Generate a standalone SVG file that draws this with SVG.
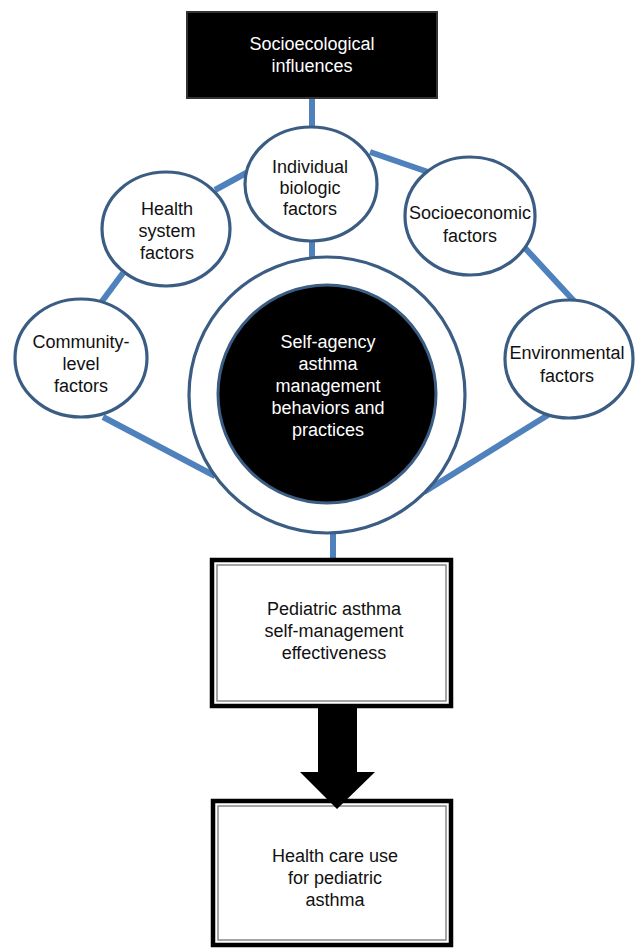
<svg xmlns="http://www.w3.org/2000/svg" width="636" height="948" viewBox="0 0 636 948">
<defs>
<style>
.bg{fill:#ffffff}
.t{font-family:"Liberation Sans",Arial,sans-serif;font-size:18px;fill:#111;text-anchor:middle}
.w{fill:#ffffff}
.c{fill:#ffffff;stroke:#3b5d84;stroke-width:3.2}
.conn{stroke:#4f81bd;stroke-width:6;fill:none}
.box{fill:#ffffff;stroke:#000;stroke-width:4.5}
.inner{fill:none;stroke:#888;stroke-width:1.5}
</style>
</defs>
<rect class="bg" x="0" y="0" width="636" height="948"/>
<g id="connectors">
<line class="conn" x1="312" y1="98" x2="312" y2="128"/>
<line class="conn" x1="312" y1="240" x2="312" y2="260"/>
<line class="conn" x1="215" y1="190" x2="248" y2="172"/>
<line class="conn" x1="370" y1="152" x2="428" y2="172"/>
<line class="conn" x1="123" y1="273" x2="100" y2="304"/>
<line class="conn" x1="525" y1="248" x2="574" y2="301"/>
<line class="conn" x1="103" y1="417" x2="215" y2="476"/>
<line class="conn" x1="548" y1="415" x2="424" y2="492"/>
<line class="conn" x1="333" y1="530" x2="333" y2="560"/>
</g>
<g id="socioecological">
<rect x="187" y="12" width="250" height="86" fill="#000" stroke="#333" stroke-width="2"/>
<text class="t w" x="312" y="50">Socioecological</text>
<text class="t w" x="312" y="72">influences</text>
</g>
<g id="individual">
<ellipse class="c" cx="311" cy="184" rx="66" ry="57"/>
<text class="t" x="310" y="173">Individual</text>
<text class="t" x="310" y="194">biologic</text>
<text class="t" x="310" y="215">factors</text>
</g>
<g id="health-system">
<ellipse class="c" cx="166" cy="229" rx="64" ry="57"/>
<text class="t" x="167" y="215">Health</text>
<text class="t" x="167" y="237">system</text>
<text class="t" x="167" y="259">factors</text>
</g>
<g id="socioeconomic">
<ellipse class="c" cx="470" cy="216" rx="65" ry="59"/>
<text class="t" x="470" y="219">Socioeconomic</text>
<text class="t" x="470" y="242">factors</text>
</g>
<g id="community">
<ellipse class="c" cx="81" cy="358" rx="66" ry="59"/>
<text class="t" x="81" y="348">Community-</text>
<text class="t" x="81" y="370">level</text>
<text class="t" x="81" y="392">factors</text>
</g>
<g id="environmental">
<ellipse class="c" cx="569" cy="359" rx="64" ry="59"/>
<text class="t" x="567" y="359">Environmental</text>
<text class="t" x="567" y="382">factors</text>
</g>
<g id="self-agency">
<circle class="c" cx="327" cy="395" r="138"/>
<circle cx="327" cy="394" r="109" fill="#000" stroke="#3b5d84" stroke-width="3"/>
<text class="t w" x="328" y="348">Self-agency</text>
<text class="t w" x="328" y="370">asthma</text>
<text class="t w" x="328" y="392">management</text>
<text class="t w" x="328" y="414">behaviors and</text>
<text class="t w" x="328" y="436">practices</text>
</g>
<g id="effectiveness">
<rect class="box" x="212" y="560" width="239" height="146"/>
<rect class="inner" x="217" y="565" width="229" height="136"/>
<text class="t" x="334" y="615">Pediatric asthma</text>
<text class="t" x="334" y="637">self-management</text>
<text class="t" x="334" y="659">effectiveness</text>
</g>
<g id="health-care">
<rect class="box" x="213" y="801" width="238" height="144"/>
<rect class="inner" x="218" y="806" width="228" height="134"/>
<text class="t" x="335" y="862">Health care use</text>
<text class="t" x="335" y="884">for pediatric</text>
<text class="t" x="335" y="906">asthma</text>
</g>
<g id="arrow">
<polygon points="318,708 357,708 357,772 375,772 337,809 300,772 318,772" fill="#000"/>
</g>
</svg>
